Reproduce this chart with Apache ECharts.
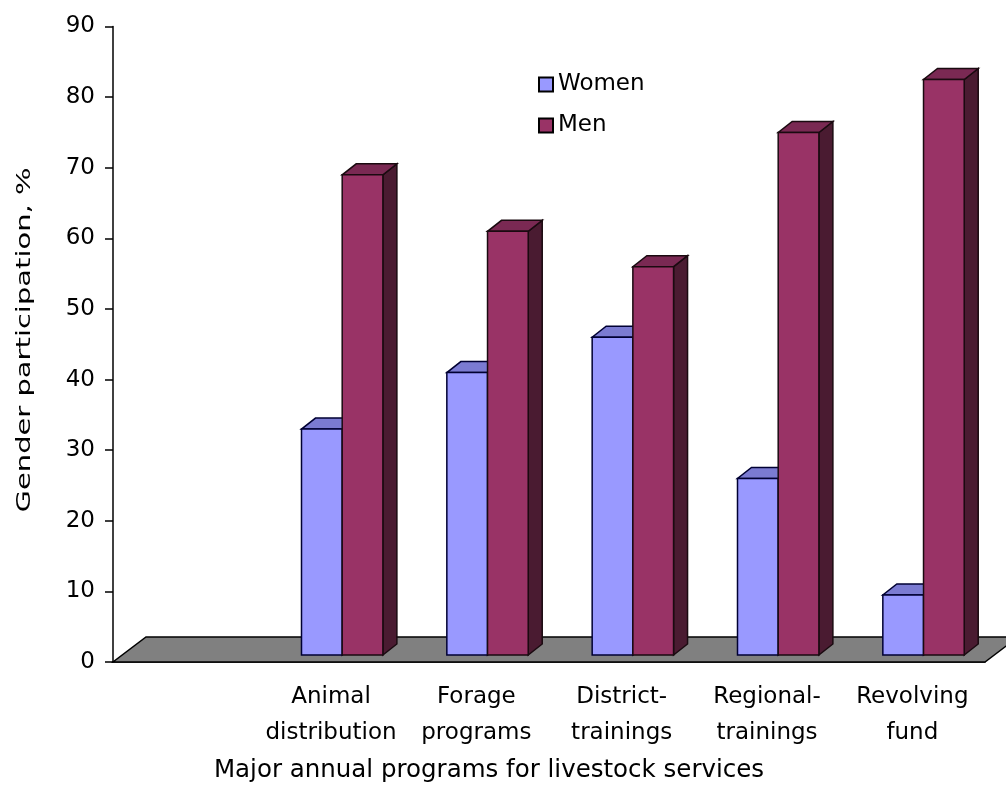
<!DOCTYPE html>
<html>
<head>
    <meta charset="utf-8">
    <title>Gender participation</title>
    <script src="https://cdn.jsdelivr.net/npm/echarts@6/dist/echarts.min.js"></script>
    <style>
        html, body { margin: 0; padding: 0; background: #fff; }
        #chart { width: 1006px; height: 802px; }
    </style>
</head>
<body>
<div id="chart"></div>
<script>
    var categories = ['', 'Animal\ndistribution', 'Forage\nprograms', 'District-\ntrainings', 'Regional-\ntrainings', 'Revolving\nfund'];
    var women = [null, 32, 40, 45, 25, 8.5];
    var men = [null, 68, 60, 55, 74, 81.5];
    var yTicks = { min: 0, max: 90, step: 10 };

    var FONT = '"DejaVu Sans", Verdana, sans-serif';
    var SIZE = 23;
    // depth of the floor and of the bars, in px
    var FLOOR_DX = 33, FLOOR_DY = 25;
    var SHIFT_Y = 7;
    var BAR_DX = 14, BAR_DY = 11;

    var yTitle = 'Gender participation, %';
    var yTitleLen = 345;

    function toData(arr) {
        var out = [];
        for (var i = 0; i < arr.length; i++) {
            if (arr[i] != null) out.push([i, arr[i]]);
        }
        return out;
    }

    function textWidth(str, font) {
        var ctx = document.createElement('canvas').getContext('2d');
        ctx.font = font;
        return ctx.measureText(str).width;
    }

    function barRenderer(slot, front, top, side, edge) {
        return function (params, api) {
            var cat = api.value(0);
            var val = api.value(1);
            var bw = api.size([1, 0])[0];
            var base = api.coord([cat, 0]);
            var peak = api.coord([cat, val]);
            var w = bw * 0.28;
            var x0 = base[0] - 29.5 + slot * w;
            var x1 = x0 + w;
            var yb = base[1] - SHIFT_Y;
            var yt = peak[1] - SHIFT_Y;
            var line = { stroke: edge, lineWidth: 1.5 };
            return {
                type: 'group',
                children: [
                    {
                        type: 'polygon',
                        shape: { points: [[x1, yt], [x1 + BAR_DX, yt - BAR_DY], [x1 + BAR_DX, yb - BAR_DY], [x1, yb]] },
                        style: Object.assign({ fill: side }, line)
                    },
                    {
                        type: 'polygon',
                        shape: { points: [[x0, yt], [x1, yt], [x1 + BAR_DX, yt - BAR_DY], [x0 + BAR_DX, yt - BAR_DY]] },
                        style: Object.assign({ fill: top }, line)
                    },
                    {
                        type: 'rect',
                        shape: { x: x0, y: yt, width: w, height: yb - yt },
                        style: Object.assign({ fill: front }, line)
                    }
                ]
            };
        };
    }

    function floorRenderer(params, api) {
        var bw = api.size([1, 0])[0];
        var left = api.coord([0, 0]);
        var right = api.coord([categories.length - 1, 0]);
        var xl = left[0] - bw / 2, xr = right[0] + bw / 2, y = left[1];
        return {
            type: 'polygon',
            shape: { points: [[xl, y], [xr, y], [xr + FLOOR_DX, y - FLOOR_DY], [xl + FLOOR_DX, y - FLOOR_DY]] },
            style: { fill: '#808080', stroke: '#000', lineWidth: 1.5 }
        };
    }

    var yTitleFont = '20px ' + FONT;
    var yTitleScale = yTitleLen / textWidth(yTitle, yTitleFont);

    var chart = echarts.init(document.getElementById('chart'));
    chart.setOption({
        animation: false,
        backgroundColor: '#fff',
        grid: { left: 113, right: 21, top: 26.5, bottom: 140 },
        legend: {
            orient: 'vertical',
            left: 533,
            top: 68,
            itemWidth: 14,
            itemHeight: 14,
            itemGap: 18,
            icon: 'rect',
            selectedMode: false,
            data: ['Women', 'Men'],
            textStyle: { fontFamily: FONT, fontSize: SIZE, color: '#000' }
        },
        graphic: [
            {
                type: 'text',
                x: 489,
                y: 771,
                style: {
                    text: 'Major annual programs for livestock services',
                    font: '24.5px ' + FONT,
                    fill: '#000',
                    align: 'center',
                    verticalAlign: 'middle'
                }
            },
            {
                type: 'text',
                x: 25,
                y: 340,
                rotation: Math.PI / 2,
                scaleX: yTitleScale,
                style: {
                    text: yTitle,
                    font: yTitleFont,
                    fill: '#000',
                    align: 'center',
                    verticalAlign: 'middle'
                }
            }
        ],
        xAxis: {
            type: 'category',
            data: categories,
            axisLine: { lineStyle: { color: '#000', width: 1.5 } },
            axisTick: { length: 10, lineStyle: { color: '#000', width: 1.5 } },
            axisLabel: { color: '#000', fontFamily: FONT, fontSize: SIZE, lineHeight: 36, margin: 17, interval: 0 },
            splitLine: { show: false }
        },
        yAxis: {
            type: 'value',
            min: yTicks.min,
            max: yTicks.max,
            interval: yTicks.step,
            axisLine: { show: true, lineStyle: { color: '#000', width: 1.5 } },
            axisTick: { show: true, length: 8, lineStyle: { color: '#000', width: 1.5 } },
            axisLabel: { color: '#000', fontFamily: FONT, fontSize: SIZE, margin: 18 },
            splitLine: { show: false }
        },
        series: [
            {
                name: 'floor',
                type: 'custom',
                renderItem: floorRenderer,
                data: [[0, 0]],
                silent: true,
                z: 1
            },
            {
                name: 'Women',
                type: 'custom',
                renderItem: barRenderer(0, '#9999FF', '#7B7BD2', '#5c5cab', '#000033'),
                itemStyle: { color: '#9999FF', borderColor: '#000', borderWidth: 1 },
                data: toData(women),
                z: 2
            },
            {
                name: 'Men',
                type: 'custom',
                renderItem: barRenderer(1, '#993366', '#7A2953', '#4A1B31', '#1a0a10'),
                itemStyle: { color: '#993366', borderColor: '#000', borderWidth: 1 },
                data: toData(men),
                z: 3
            }
        ]
    });
</script>
</body>
</html>
